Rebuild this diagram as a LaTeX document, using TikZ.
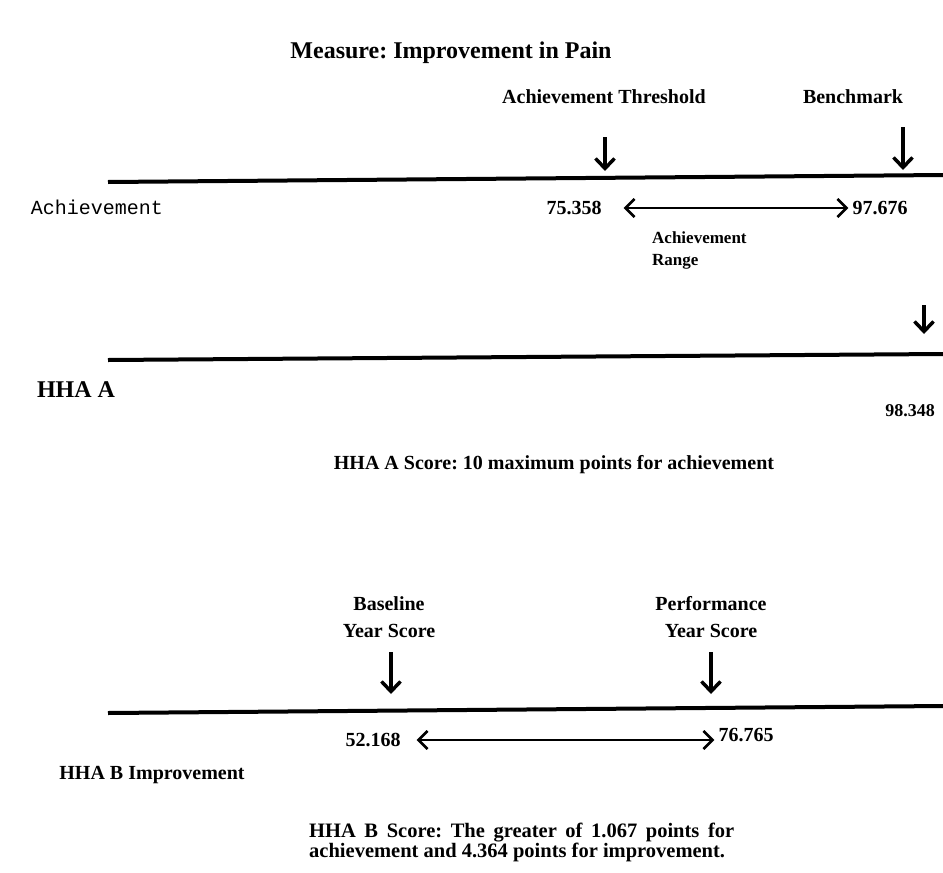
\documentclass[tikz,border=0pt]{standalone}
\usepackage{fontspec}
\setmainfont{Liberation Serif}
\setmonofont{Liberation Mono}
\usetikzlibrary{arrows.meta}
\frenchspacing
\begin{document}
\begin{tikzpicture}[x=1pt,y=-1pt,
  lbl/.style={font=\bfseries\fontsize{20}{22}\selectfont, inner sep=0pt},
  big/.style={font=\bfseries\fontsize{24}{26}\selectfont, inner sep=0pt},
  mono/.style={font=\ttfamily\fontsize{20}{22}\selectfont, inner sep=0pt},
  axisline/.style={line width=4pt},
  downarrow/.style={line width=3.5pt, -{Straight Barb[length=10pt,width=19pt]}},
  rangearrow/.style={line width=2.6pt, {Straight Barb[length=9pt,width=18pt]}-{Straight Barb[length=9pt,width=18pt]}}
]
\useasboundingbox (0,0) rectangle (943,873);

% title
\node[big] (title) at (451,53) {Measure: Improvement in Pain};

% section 1: achievement
\node[lbl] (thr) at (604,97) {Achievement Threshold};
\node[lbl] (bm) at (853,97) {Benchmark};
\coordinate (a1s) at (605,137);
\coordinate (a1e) at (605,171);
\coordinate (a2s) at (903,127);
\coordinate (a2e) at (903,170);
\draw[downarrow] (a1s) -- (a1e);
\draw[downarrow] (a2s) -- (a2e);
\coordinate (l1a) at (108,182);
\coordinate (l1b) at (943,175);
\draw[axisline] (l1a) -- (l1b);
\node[mono] (ach) at (97,207) {Achievement};
\node[lbl] (n1) at (574,208) {75.358};
\node[lbl] (n2) at (880,208) {97.676};
\draw[rangearrow, shorten <=22pt, shorten >=4pt] (n1.east) -- (n2.west);
\node[lbl, anchor=north west, align=left, font=\bfseries\fontsize{17}{22}\selectfont] (rng) at (652,232) {Achievement\\Range};

% section 2: HHA A
\coordinate (a3s) at (924,305);
\coordinate (a3e) at (924,334);
\draw[downarrow] (a3s) -- (a3e);
\coordinate (l2a) at (108,360);
\coordinate (l2b) at (943,354);
\draw[axisline] (l2a) -- (l2b);
\node[big] (hhaa) at (76,390) {HHA A};
\node[lbl, font=\bfseries\fontsize{18}{20}\selectfont] (n3) at (910,411) {98.348};
\node[lbl] (scoreA) at (554,465) {HHA A Score: 10 maximum points for achievement};

% section 3: HHA B
\node[lbl, align=center, font=\bfseries\fontsize{20}{27}\selectfont] (base) at (389,617) {Baseline\\Year Score};
\node[lbl, align=center, font=\bfseries\fontsize{20}{27}\selectfont] (perf) at (711,617) {Performance\\Year Score};
\coordinate (a4s) at (391,652);
\coordinate (a4e) at (391,694);
\coordinate (a5s) at (711,652);
\coordinate (a5e) at (711,694);
\draw[downarrow] (a4s) -- (a4e);
\draw[downarrow] (a5s) -- (a5e);
\coordinate (l3a) at (108,713);
\coordinate (l3b) at (943,706);
\draw[axisline] (l3a) -- (l3b);
\node[lbl] (n4) at (373,740) {52.168};
\node[lbl] (n5) at (746,735) {76.765};
\draw[rangearrow, shorten <=16pt, shorten >=4pt] (n4.east) -- (n5.west |- n4.east);
\node[lbl] (hhab) at (152,775) {HHA B Improvement};
\node[lbl, anchor=north west, align=left, font=\bfseries\fontsize{20.5}{20}\selectfont] (scoreB) at (309,823)
  {\makebox[425pt][s]{HHA B Score: The greater of 1.067 points for}\\achievement and 4.364 points for improvement.};
\end{tikzpicture}
\end{document}
